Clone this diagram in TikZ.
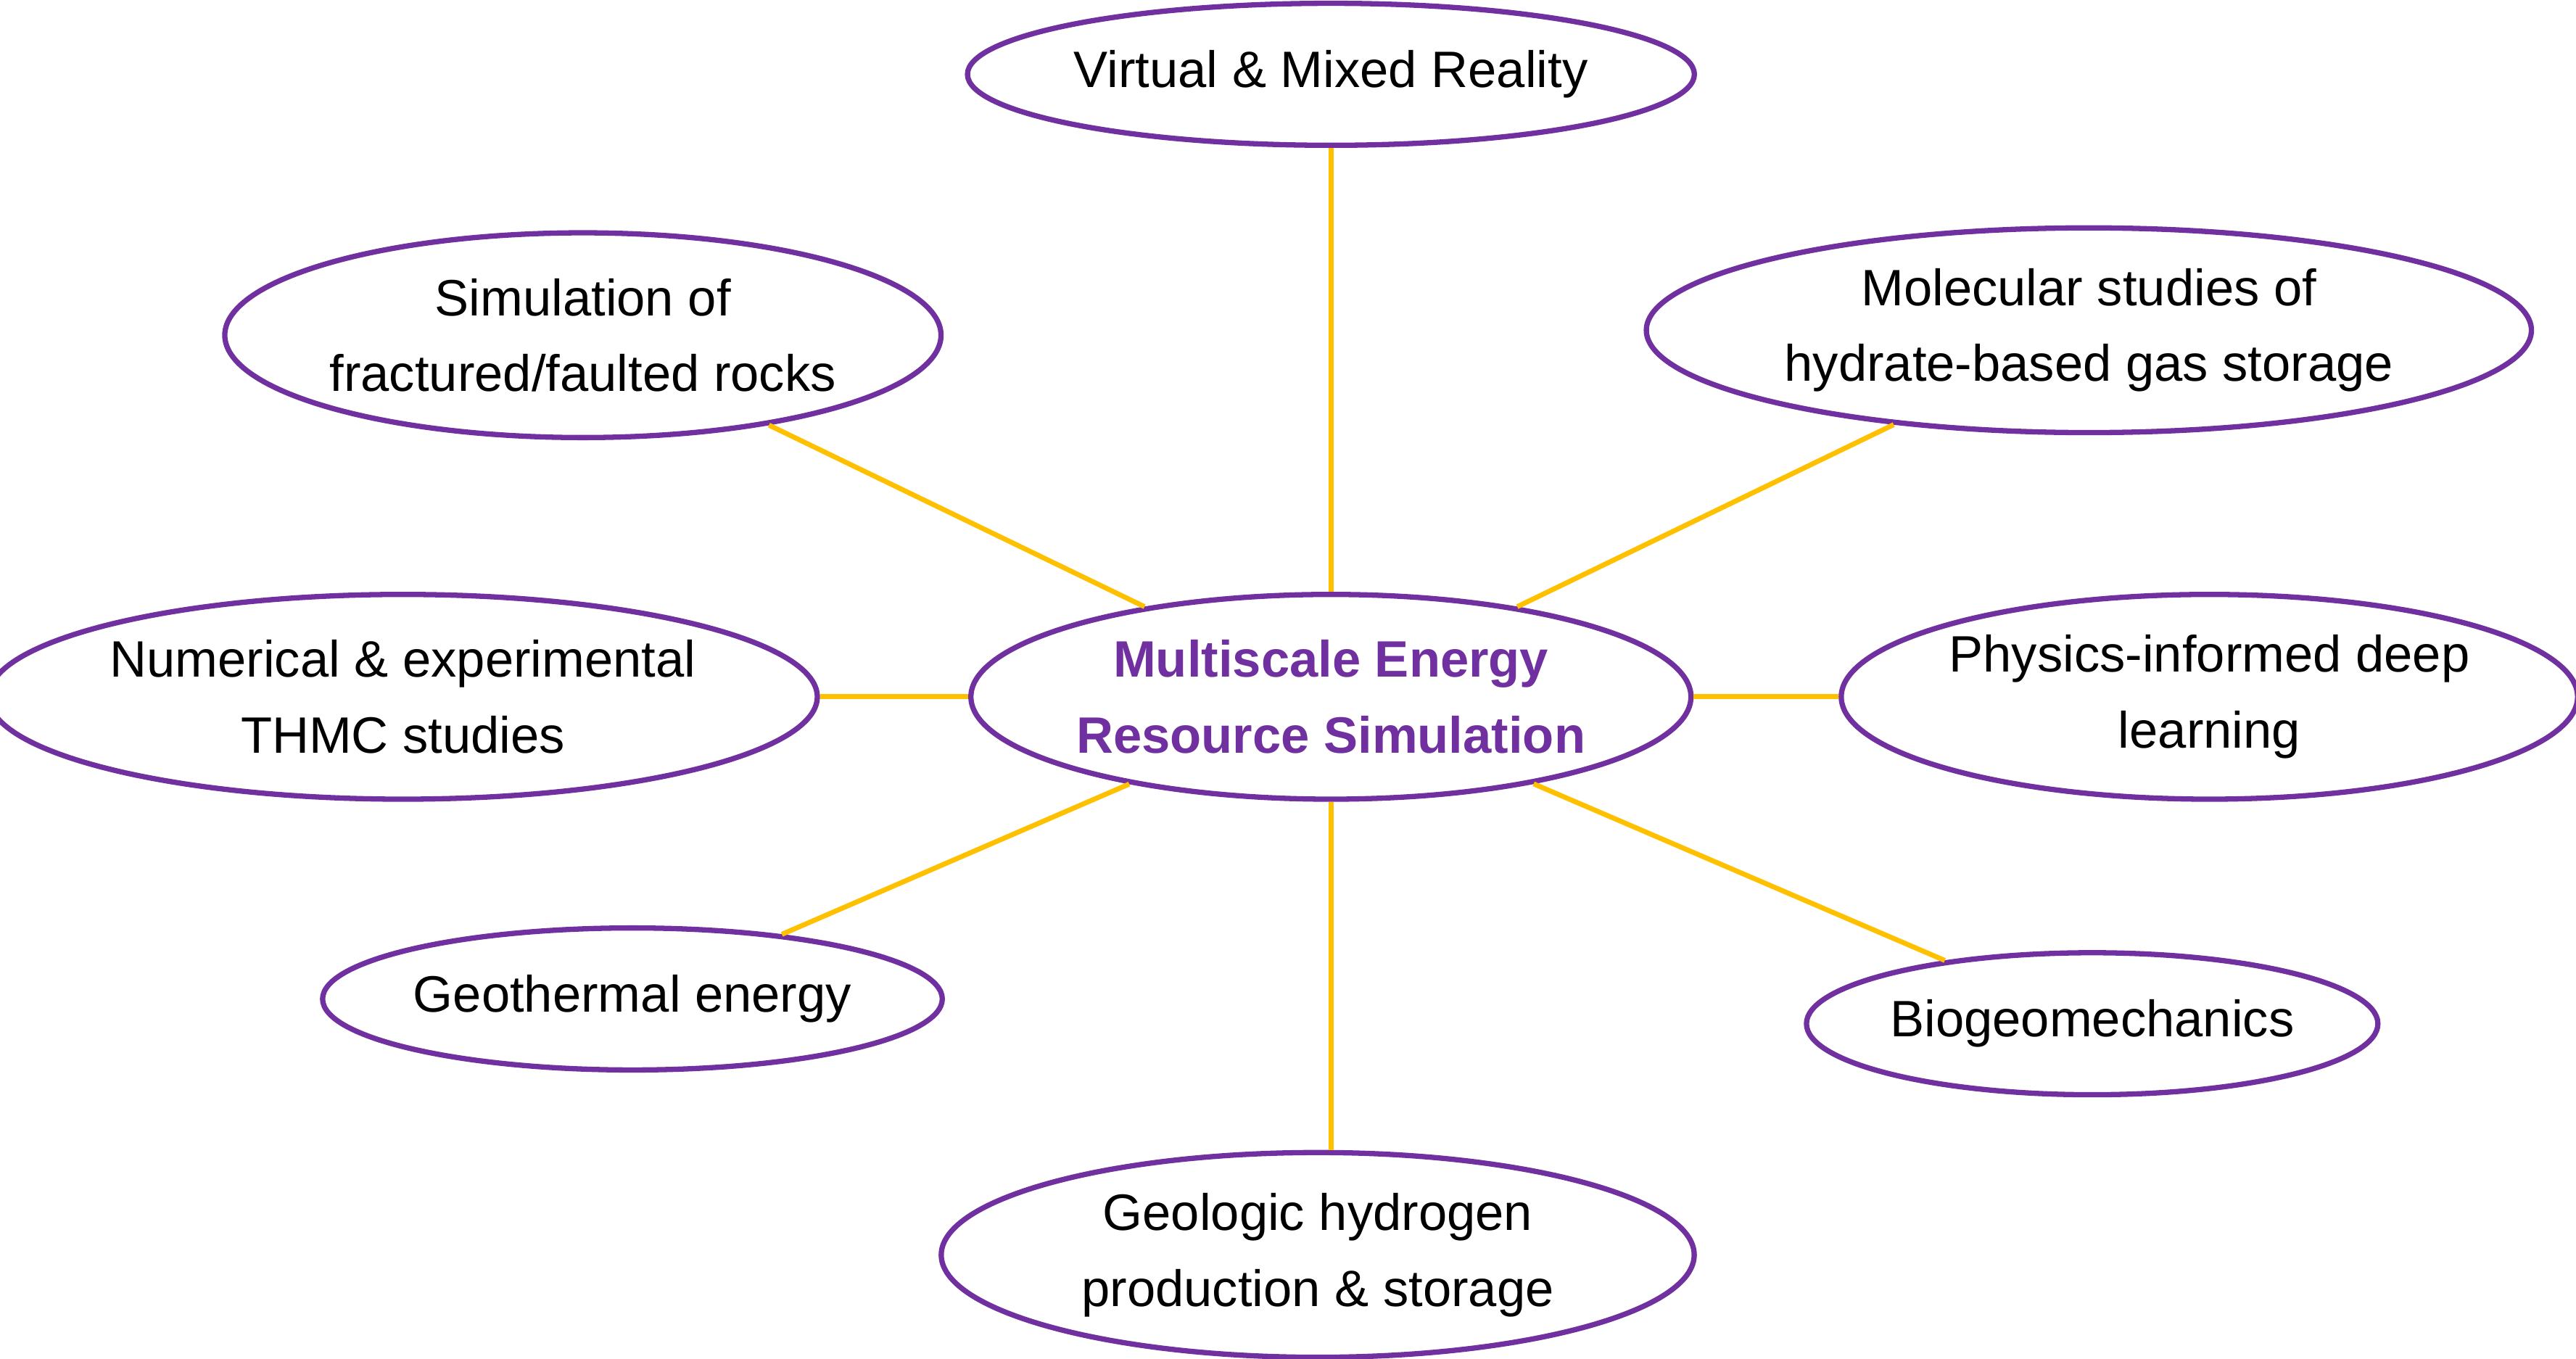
\documentclass[tikz,border=0pt]{standalone}
\usepackage{fontspec}
\setmainfont{Liberation Sans}
\usetikzlibrary{shapes.geometric}
\definecolor{topicpurple}{RGB}{112,48,160}
\definecolor{linkgold}{RGB}{255,192,0}
\tikzset{every picture/.style={line width=1.5pt}}
\tikzset{
  topic/.style={ellipse, draw=topicpurple, line width=1.6pt, inner sep=0pt, align=center,
    font=\fontsize{15.5}{23}\selectfont, text=black},
  link/.style={draw=linkgold, line width=1.5pt},
}

\begin{document}
\begin{tikzpicture}[x=0.5pt,y=0.5pt,yscale=-1,xscale=1]
    \useasboundingbox (0,0) rectangle (1560,823);

    % Central topic
    \node [topic, minimum width=432*0.5pt, minimum height=124*0.5pt, text=topicpurple, font=\fontsize{15.5}{23}\selectfont\bfseries] (core) at (806,422) {Multiscale Energy\\Resource Simulation};

    % Surrounding topics
    \node [topic, minimum width=434*0.5pt, minimum height=86*0.5pt] (vr) at (806,45) {Virtual \& Mixed Reality};
    \node [topic, minimum width=432*0.5pt, minimum height=124*0.5pt] (frac) at (353,203) {Simulation of\\fractured/faulted rocks};
    \node [topic, minimum width=536*0.5pt, minimum height=124*0.5pt] (hyd) at (1265,200) {Molecular studies of\\hydrate-based gas storage};
    \node [topic, minimum width=484*0.5pt, minimum height=124*0.5pt] (thmc) at (244,422) {Numerical \& experimental\\THMC studies};
    \node [topic, minimum width=432*0.5pt, minimum height=124*0.5pt] (piml) at (1338,422) {Physics-informed deep\\learning};
    \node [topic, minimum width=346*0.5pt, minimum height=86*0.5pt] (geo) at (383,605) {Geothermal energy};
    \node [topic, minimum width=332*0.5pt, minimum height=86*0.5pt] (bio) at (1267,620) {Biogeomechanics};
    \node [topic, minimum width=456*0.5pt, minimum height=124*0.5pt] (h2) at (798,760) {Geologic hydrogen\\production \& storage};

    % Links
    \draw [link] (core.north) -- (vr.south);
    \draw [link] (core) -- (frac);
    \draw [link] (core) -- (hyd);
    \draw [link] (core.west) -- (thmc.east);
    \draw [link] (core.east) -- (piml.west);
    \draw [link] (core) -- (geo);
    \draw [link] (core) -- (bio);
    \draw [link] (core.south) -- (core.south |- h2.north);
\end{tikzpicture}
\end{document}
